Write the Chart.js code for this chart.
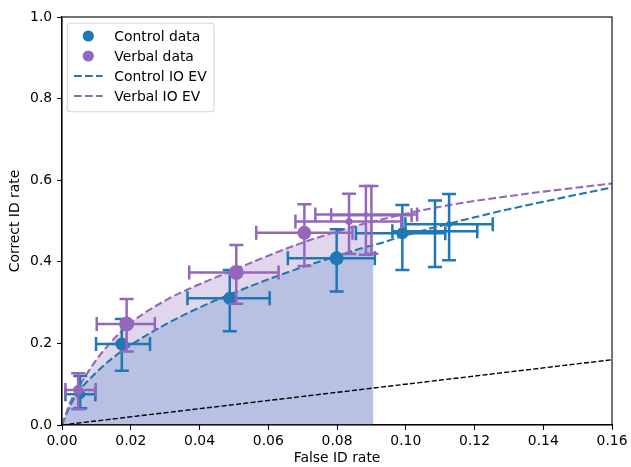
<!DOCTYPE html>
<html>
<head>
<meta charset="utf-8">
<script src="https://cdn.jsdelivr.net/npm/chart.js@4.4.0/dist/chart.umd.min.js"></script>
<style>
html, body { margin: 0; padding: 0; background: #ffffff; }
#wrap { width: 631px; height: 467px; position: relative; }
</style>
</head>
<body>
<div id="wrap"><canvas id="roc"></canvas></div>
<script>
// Control condition: observed rates with confidence bounds
const controlFalseId      = [0.0053, 0.0174, 0.0488, 0.0799, 0.0990, 0.1085, 0.1126];
const controlCorrectId    = [0.0755, 0.1985, 0.3105, 0.4085, 0.470, 0.475, 0.492];
const controlFalseIdLow   = [0.0010, 0.0099, 0.0365, 0.0657, 0.0855, 0.0961, 0.0999];
const controlFalseIdHigh  = [0.0097, 0.0256, 0.0604, 0.0910, 0.1115, 0.1208, 0.1253];
const controlCorrectIdLow = [0.041, 0.133, 0.230, 0.327, 0.380, 0.387, 0.404];
const controlCorrectIdHigh= [0.120, 0.260, 0.380, 0.480, 0.539, 0.550, 0.566];

// Verbal condition: observed rates with confidence bounds
const verbalFalseId       = [0.0047, 0.0188, 0.0507, 0.0705, 0.0835, 0.0884, 0.0900];
const verbalCorrectId     = [0.086, 0.2475, 0.374, 0.471, 0.499, 0.516, 0.514];
const verbalFalseIdLow    = [0.0010, 0.0101, 0.0370, 0.0565, 0.0679, 0.0737, 0.0783];
const verbalFalseIdHigh   = [0.0098, 0.0270, 0.0630, 0.0845, 0.0987, 0.1033, 0.1017];
const verbalCorrectIdLow  = [0.0385, 0.180, 0.297, 0.390, 0.419, 0.417, 0.420];
const verbalCorrectIdHigh = [0.127, 0.309, 0.441, 0.541, 0.567, 0.586, 0.586];

// Ideal-observer expected-value curves
const curveFalseId   = [0, 0.0025, 0.005, 0.01, 0.015, 0.02, 0.03, 0.04, 0.05, 0.06, 0.07, 0.08, 0.09, 0.0906, 0.10, 0.11, 0.12, 0.13, 0.14, 0.15, 0.16];
const controlCurve   = [0, 0.050, 0.084, 0.129, 0.166, 0.196, 0.246, 0.288, 0.324, 0.357, 0.387, 0.414, 0.440, 0.441, 0.465, 0.488, 0.509, 0.529, 0.547, 0.565, 0.582];
const verbalCurve    = [0, 0.058, 0.095, 0.160, 0.210, 0.250, 0.305, 0.345, 0.380, 0.415, 0.447, 0.474, 0.498, 0.499, 0.518, 0.535, 0.549, 0.561, 0.572, 0.582, 0.592];

// Chance line
const chanceFalseId   = [0, 0.16];
const chanceCorrectId = [0, 0.16];

// Partial-area region upper false ID limit
const shadeLimit = 0.0906;

// Tick values
const xTicks = [0, 0.02, 0.04, 0.06, 0.08, 0.10, 0.12, 0.14, 0.16];
const yTicks = [0, 0.2, 0.4, 0.6, 0.8, 1.0];

const legendLabels = ['Control data', 'Verbal data', 'Control IO EV', 'Verbal IO EV'];

const BLUE = '#1f77b4';
const PURPLE = '#9467bd';
const FONT = { family: 'DejaVu Sans', size: 13.9 };
const DASH = [7.7, 3.3];

const zipXY = (xs, ys) => xs.map((x, i) => ({ x: x, y: ys[i] }));
const shaded = (xs, ys) => zipXY(xs, ys).filter(p => p.x <= shadeLimit + 1e-9);

const errorBarPlugin = {
  id: 'errorBars',
  beforeDatasetDraw(chart, args) {
    const ds = chart.data.datasets[args.index];
    if (!ds.errorBars) return;
    const xs = chart.scales.x, ys = chart.scales.y;
    const e = ds.errorBars;
    const ctx = chart.ctx;
    const cap = 7;
    ctx.save();
    ctx.strokeStyle = ds.backgroundColor;
    ctx.lineWidth = 2.5;
    ctx.lineCap = 'butt';
    for (let i = 0; i < e.x.length; i++) {
      const px = xs.getPixelForValue(e.x[i]);
      const py = ys.getPixelForValue(e.y[i]);
      const xl = xs.getPixelForValue(e.xLow[i]);
      const xh = xs.getPixelForValue(e.xHigh[i]);
      const yl = ys.getPixelForValue(e.yLow[i]);
      const yh = ys.getPixelForValue(e.yHigh[i]);
      ctx.beginPath();
      ctx.moveTo(xl, py); ctx.lineTo(xh, py);
      ctx.moveTo(px, yl); ctx.lineTo(px, yh);
      ctx.moveTo(xl, py - cap); ctx.lineTo(xl, py + cap);
      ctx.moveTo(xh, py - cap); ctx.lineTo(xh, py + cap);
      ctx.moveTo(px - cap, yl); ctx.lineTo(px + cap, yl);
      ctx.moveTo(px - cap, yh); ctx.lineTo(px + cap, yh);
      ctx.stroke();
    }
    ctx.restore();
  }
};

const frameLegendPlugin = {
  id: 'frameLegend',
  afterDraw(chart) {
    const ctx = chart.ctx;
    const a = chart.chartArea;
    ctx.save();
    // full axes frame
    ctx.strokeStyle = '#000';
    ctx.lineWidth = 1.1;
    ctx.strokeRect(a.left, a.top, a.right - a.left, a.bottom - a.top);

    // legend box
    const bx = a.left + 5.3, by = a.top + 6.3, bw = 146.7, bh = 88.4;
    ctx.beginPath();
    ctx.roundRect(bx, by, bw, bh, 3);
    ctx.fillStyle = 'rgba(255,255,255,0.8)';
    ctx.fill();
    ctx.strokeStyle = 'rgba(204,204,204,0.8)';
    ctx.lineWidth = 1.1;
    ctx.stroke();

    const rowY = [by + 12.7, by + 32.7, by + 52.7, by + 72.7];
    const colors = [BLUE, PURPLE, BLUE, PURPLE];
    ctx.font = FONT.size + 'px "' + FONT.family + '"';
    ctx.textBaseline = 'middle';
    ctx.textAlign = 'left';
    for (let i = 0; i < legendLabels.length; i++) {
      const y = rowY[i];
      if (i < 2) {
        ctx.beginPath();
        ctx.arc(bx + 21, y, 5.6, 0, Math.PI * 2);
        ctx.fillStyle = colors[i];
        ctx.fill();
      } else {
        ctx.beginPath();
        ctx.setLineDash(DASH);
        ctx.strokeStyle = colors[i];
        ctx.lineWidth = 2.08;
        ctx.moveTo(bx + 6.7, y);
        ctx.lineTo(bx + 35.4, y);
        ctx.stroke();
        ctx.setLineDash([]);
      }
      ctx.fillStyle = '#000';
      ctx.fillText(legendLabels[i], bx + 47, y + 1);
    }
    ctx.restore();
  }
};

const axisStyle = (ticks, digits, title, isX) => ({
  type: 'linear',
  min: ticks[0],
  max: ticks[ticks.length - 1],
  afterBuildTicks(scale) { scale.ticks = ticks.map(v => ({ value: v })); },
  ticks: {
    autoSkip: false,
    maxRotation: 0,
    font: FONT,
    color: '#000',
    padding: isX ? 3.5 : 4.9,
    callback: v => Number(v).toFixed(digits)
  },
  grid: {
    display: true,
    drawOnChartArea: false,
    drawTicks: true,
    tickLength: 4.9,
    tickWidth: 1.1,
    tickColor: '#000'
  },
  border: { display: true, color: '#000', width: 1.1 },
  title: {
    display: true,
    text: title,
    font: FONT,
    color: '#000',
    padding: isX ? { top: 0, bottom: 0.5 } : { top: 7.5, bottom: 0 }
  },
  afterFit(scale) {
    if (isX) scale.height = 42; else scale.width = 62;
  }
});

new Chart(document.getElementById('roc'), {
  type: 'scatter',
  data: {
    datasets: [
      {
        type: 'line', label: 'verbal area', order: 10,
        data: shaded(curveFalseId, verbalCurve),
        borderWidth: 0, pointRadius: 0,
        backgroundColor: 'rgba(148,103,189,0.27)', fill: 'origin',
        cubicInterpolationMode: 'monotone'
      },
      {
        type: 'line', label: 'control area', order: 9,
        data: shaded(curveFalseId, controlCurve),
        borderWidth: 0, pointRadius: 0,
        backgroundColor: 'rgba(31,119,180,0.22)', fill: 'origin',
        cubicInterpolationMode: 'monotone'
      },
      {
        type: 'line', label: 'chance', order: 8,
        data: zipXY(chanceFalseId, chanceCorrectId),
        borderColor: '#000', borderWidth: 1.4, borderDash: [5.1, 2.2],
        pointRadius: 0, fill: false
      },
      {
        type: 'line', label: 'Control IO EV', order: 7,
        data: zipXY(curveFalseId, controlCurve),
        borderColor: BLUE, borderWidth: 2.08, borderDash: DASH,
        pointRadius: 0, fill: false, cubicInterpolationMode: 'monotone'
      },
      {
        type: 'line', label: 'Verbal IO EV', order: 6,
        data: zipXY(curveFalseId, verbalCurve),
        borderColor: PURPLE, borderWidth: 2.08, borderDash: DASH,
        pointRadius: 0, fill: false, cubicInterpolationMode: 'monotone'
      },
      {
        label: 'Control data', order: 2,
        data: zipXY(controlFalseId, controlCorrectId),
        backgroundColor: BLUE, borderColor: BLUE, borderWidth: 0,
        pointRadius: [5, 6.5, 6.5, 7, 6, 2.5, 3],
        errorBars: { x: controlFalseId, y: controlCorrectId, xLow: controlFalseIdLow, xHigh: controlFalseIdHigh, yLow: controlCorrectIdLow, yHigh: controlCorrectIdHigh }
      },
      {
        label: 'Verbal data', order: 1,
        data: zipXY(verbalFalseId, verbalCorrectId),
        backgroundColor: PURPLE, borderColor: PURPLE, borderWidth: 0,
        pointRadius: [5, 7.5, 7.5, 7, 3.5, 2.5, 2],
        errorBars: { x: verbalFalseId, y: verbalCorrectId, xLow: verbalFalseIdLow, xHigh: verbalFalseIdHigh, yLow: verbalCorrectIdLow, yHigh: verbalCorrectIdHigh }
      }
    ]
  },
  options: {
    responsive: true,
    maintainAspectRatio: false,
    devicePixelRatio: 1,
    animation: false,
    layout: { padding: { left: 0, right: 17, top: 17, bottom: 0 } },
    plugins: { legend: { display: false }, tooltip: { enabled: false } },
    scales: {
      x: axisStyle(xTicks, 2, 'False ID rate', true),
      y: axisStyle(yTicks, 1, 'Correct ID rate', false)
    }
  },
  plugins: [errorBarPlugin, frameLegendPlugin]
});
</script>
</body>
</html>
